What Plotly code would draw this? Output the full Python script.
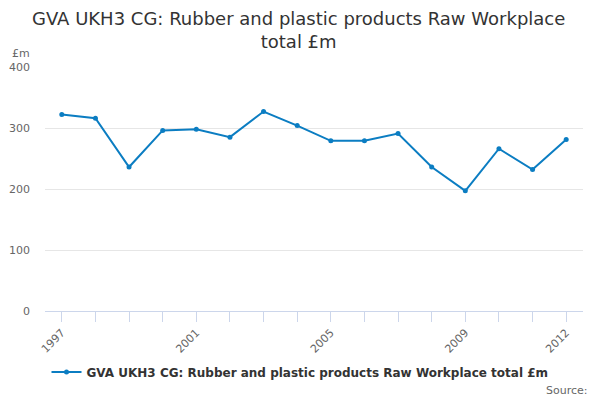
import plotly.graph_objects as go

years = list(range(1997, 2013))
values = [322, 316, 236, 296, 298, 285, 327, 304, 279, 279, 291, 236, 197, 266, 232, 281]
labelled_years = [1997, 2001, 2005, 2009, 2012]
y_ticks = [0, 100, 200, 300, 400]
series_name = "GVA UKH3 CG: Rubber and plastic products Raw Workplace total £m"
title_text = "GVA UKH3 CG: Rubber and plastic products Raw Workplace<br>total £m"

font_family = "DejaVu Sans, Open Sans, sans-serif"

fig = go.Figure()
fig.add_trace(go.Scatter(
    x=years, y=values, mode="lines+markers", name=series_name,
    line=dict(color="#0b7dc2", width=2),
    marker=dict(size=5, color="#0b7dc2"),
))

fig.update_layout(
    width=600, height=400,
    margin=dict(l=45, r=17, t=67, b=89, autoexpand=False),
    paper_bgcolor="white", plot_bgcolor="white",
    font=dict(family=font_family, color="#333333"),
    showlegend=True,
    legend=dict(orientation="h", x=0.5, xanchor="center", xref="container",
                y=1 - 372 / 400, yanchor="middle", yref="container",
                font=dict(size=12, color="#333333", family=font_family, weight="bold")),
    xaxis=dict(
        range=[1996.5, 2012.5], automargin=False,
        tickmode="array", tickvals=years,
        ticktext=[str(y) if y in labelled_years else "" for y in years],
        tickangle=-45, ticks="outside", ticklen=10, tickcolor="#ccd6eb",
        showline=True, linecolor="#ccd6eb", linewidth=1,
        showgrid=False, zeroline=False,
        tickfont=dict(size=11, color="#666666"),
    ),
    yaxis=dict(
        range=[0, 400], tickmode="array", tickvals=y_ticks, automargin=False,
        showgrid=True, gridcolor="#e6e6e6", zeroline=False, showline=False,
        tickfont=dict(size=11, color="#666666"), ticklabelstandoff=14,
    ),
    annotations=[
        dict(text=title_text, xref="paper", yref="paper",
             x=(298 - 45) / 538, y=1 + (67 - 6) / 244,
             xanchor="center", yanchor="top", showarrow=False,
             font=dict(size=18, color="#333333", family=font_family)),
        dict(text="£m", xref="paper", yref="paper", x=-(45 - 10) / 538, y=1 + (67 - 45) / 244,
             xanchor="left", yanchor="top", showarrow=False,
             font=dict(size=11, color="#666666")),
        dict(text="Source:", xref="paper", yref="paper", x=(590 - 45) / 538,
             y=-(382 - 311) / 244,
             xanchor="right", yanchor="top", showarrow=False,
             font=dict(size=11, color="#666666")),
    ],
)

fig.write_html("out.html", config={"displayModeBar": False},
               post_script="document.body.style.margin='0';document.body.style.padding='0';")
